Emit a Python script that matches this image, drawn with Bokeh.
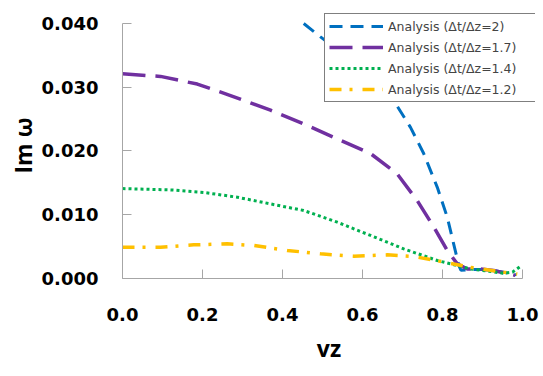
from bokeh.plotting import figure
from bokeh.models import (Range1d, FixedTicker, PrintfTickFormatter, Legend, LegendItem)
from bokeh.embed import file_html
from bokeh.resources import INLINE

# ---- data ----
vz_2 = [0.453, 0.495, 0.562, 0.628, 0.678, 0.720, 0.753, 0.787, 0.812, 0.828, 0.841, 0.846, 0.87, 0.90, 0.93, 0.96, 0.985]
im_2 = [0.0400, 0.0379, 0.0347, 0.0311, 0.0279, 0.0237, 0.0196, 0.0143, 0.0096, 0.0054, 0.0020, 0.0013, 0.0014, 0.0014, 0.0012, 0.0009, 0.0006]

vz_17 = [0.0, 0.095, 0.187, 0.27, 0.37, 0.462, 0.537, 0.62, 0.687, 0.737, 0.778, 0.812, 0.837, 0.862, 0.895, 0.928, 0.982]
im_17 = [0.0321, 0.0317, 0.0305, 0.0287, 0.0264, 0.0240, 0.0219, 0.0196, 0.0164, 0.0122, 0.0081, 0.0044, 0.0023, 0.0015, 0.0015, 0.00125, 0.0005]

vz_14 = [0.0, 0.12, 0.203, 0.287, 0.37, 0.453, 0.537, 0.62, 0.703, 0.787, 0.87, 0.953, 0.975, 0.995]
im_14 = [0.0141, 0.0139, 0.0135, 0.01275, 0.0117, 0.01067, 0.00883, 0.00675, 0.00466, 0.00282, 0.0015, 0.00083, 0.0010, 0.0019]

vz_12 = [0.0, 0.095, 0.178, 0.262, 0.328, 0.412, 0.495, 0.578, 0.662, 0.728, 0.787, 0.87, 0.953, 0.987]
im_12 = [0.0049, 0.0049, 0.00528, 0.00544, 0.00518, 0.0044, 0.00387, 0.0035, 0.00371, 0.00345, 0.0028, 0.00175, 0.0010, 0.0007]

x_ticks = [0.0, 0.2, 0.4, 0.6, 0.8, 1.0]
y_ticks = [0.0, 0.01, 0.02, 0.03, 0.04]

x_title = "vz"
y_title = "Im \u03c9"
labels = ["Analysis (\u0394t/\u0394z=2)", "Analysis (\u0394t/\u0394z=1.7)",
          "Analysis (\u0394t/\u0394z=1.4)", "Analysis (\u0394t/\u0394z=1.2)"]

p = figure(width=543, height=376, output_backend="svg", toolbar_location=None,
           x_range=Range1d(0, 1.0325), y_range=Range1d(0, 0.041725),
           min_border_left=122, min_border_right=8, min_border_top=12, min_border_bottom=98)
p.outline_line_color = None
p.xgrid.visible = False
p.ygrid.visible = False

r1 = p.line(vz_2, im_2, line_color="#0070C0", line_width=3, line_dash="13 8")
r2 = p.line(vz_17, im_17, line_color="#7030A0", line_width=3.5, line_dash="23 10")
r3 = p.line(vz_14, im_14, line_color="#00B050", line_width=3, line_dash="3 3")
r4 = p.line(vz_12, im_12, line_color="#FFC000", line_width=3.5, line_dash="12 8 3 10")

for ax, ticks, fmt in ((p.xaxis[0], x_ticks, "%.1f"), (p.yaxis[0], y_ticks, "%.3f")):
    ax.ticker = FixedTicker(ticks=ticks)
    ax.formatter = PrintfTickFormatter(format=fmt)
    ax.axis_line_color = "#a6a6a6"
    ax.major_tick_line_color = "#a6a6a6"
    ax.major_tick_in = 9
    ax.major_tick_out = 0
    ax.minor_tick_line_color = None
    ax.major_label_text_font = "DejaVu Sans"
    ax.major_label_text_font_style = "bold"
    ax.major_label_text_font_size = "18px"
    ax.major_label_text_color = "black"
    ax.axis_label_text_font = "Open Sans"
    ax.axis_label_text_font_style = "bold"
    ax.axis_label_text_font_size = "23px"
    ax.axis_label_text_color = "black"

p.xaxis.bounds = (0, 1)
p.yaxis.bounds = (0, 0.04)
p.xaxis.axis_label = x_title
p.yaxis.axis_label = y_title
p.xaxis.major_label_standoff = 29
p.yaxis.major_label_standoff = 24
p.xaxis.axis_label_standoff = 8
p.yaxis.axis_label_standoff = 0

legend = Legend(items=[LegendItem(label=labels[0], renderers=[r1]),
                       LegendItem(label=labels[1], renderers=[r2]),
                       LegendItem(label=labels[2], renderers=[r3]),
                       LegendItem(label=labels[3], renderers=[r4])],
                location=(202, 176), margin=0, padding=4, spacing=5,
                glyph_width=54, glyph_height=16, label_height=16, label_width=154,
                label_standoff=5, label_text_font="DejaVu Sans", label_text_font_size="12.5px",
                border_line_color="black", border_line_width=1, background_fill_alpha=1)
p.add_layout(legend)

open("out.html", "w").write(file_html(p, INLINE))
